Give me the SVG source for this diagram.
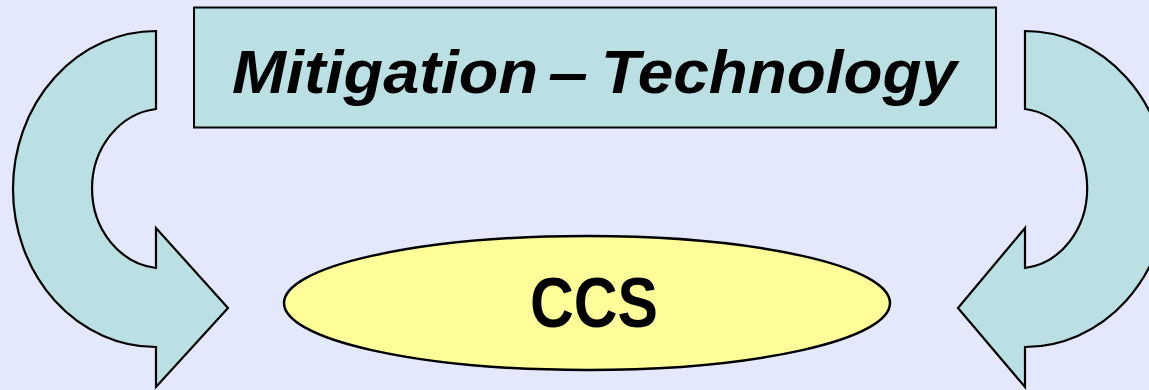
<svg xmlns="http://www.w3.org/2000/svg" width="1149" height="390" viewBox="0 0 1149 390">
<style>
.arrow{fill:#BAE0E3;stroke:#000;stroke-width:2.2;stroke-linejoin:miter}
.box{fill:#BAE0E3;stroke:#000;stroke-width:2}
.oval{fill:#FFFF99;stroke:#000;stroke-width:2.5}
.t{font-family:"Liberation Sans",Arial,sans-serif;font-weight:bold;fill:#000}
.ti{font-size:62px;font-style:italic}
</style>
<rect x="0" y="0" width="1149" height="390" fill="#E4E8FB"/>
<g id="connectors">
<path class="arrow" d="M156,31 A143,158 0 0 0 156,347 L156,387 L228,308 L156,228 L156,268 A72,80 0 0 1 156,109 Z"/>
<path class="arrow" d="M1025,31 A143,158 0 0 1 1025,347 L1025,387 L958,308 L1025,228 L1025,268 A70,80 0 0 0 1025,109 Z"/>
</g>
<g id="mitigation">
<rect class="box" x="194" y="7.5" width="802" height="120"/>
<text class="t ti" x="232" y="93" textLength="306" lengthAdjust="spacingAndGlyphs">Mitigation</text>
<text class="t ti" x="548" y="93" textLength="40" lengthAdjust="spacingAndGlyphs">–</text>
<text class="t ti" x="601" y="93" textLength="356" lengthAdjust="spacingAndGlyphs">Technology</text>
</g>
<g id="ccs">
<ellipse class="oval" cx="587" cy="303" rx="303" ry="67"/>
<text class="t" x="594" y="327" font-size="70" text-anchor="middle" textLength="128" lengthAdjust="spacingAndGlyphs">CCS</text>
</g>
</svg>
